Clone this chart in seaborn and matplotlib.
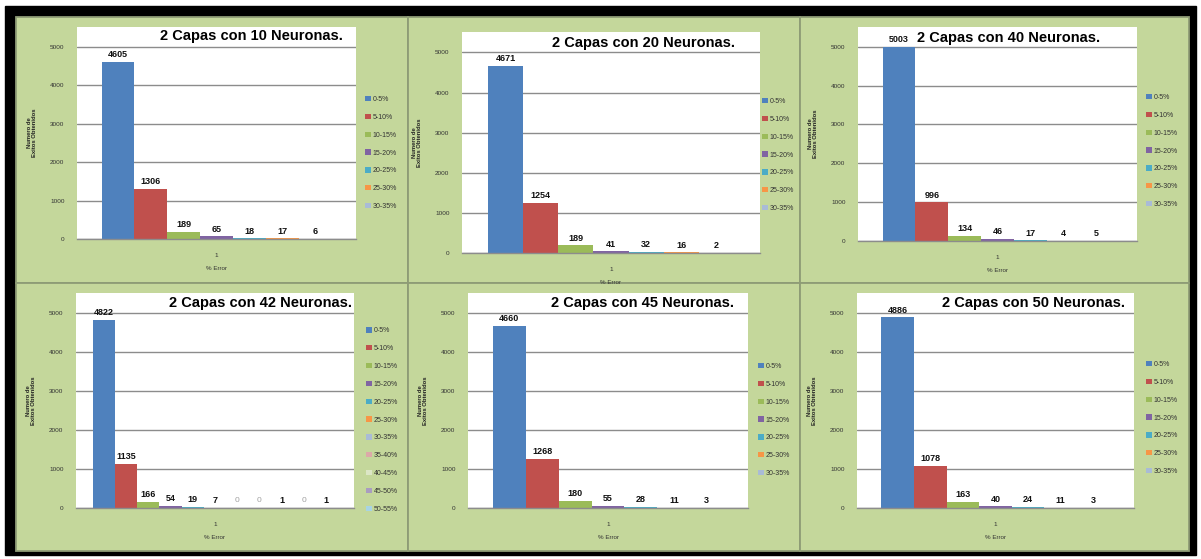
import numpy as np
import pandas as pd
import seaborn as sns
import matplotlib.pyplot as plt
from matplotlib.patches import Rectangle

sns.set_style("white")
plt.rcParams['font.family'] = ['Liberation Sans', 'DejaVu Sans']

# ---- datos ----
rangos = ['0-5%', '5-10%', '10-15%', '15-20%', '20-25%', '25-30%', '30-35%',
          '35-40%', '40-45%', '45-50%', '50-55%']
colores = ['#4F81BD', '#C0504D', '#9BBB59', '#8064A2', '#4BACC6', '#F79646',
           '#A9BBD6', '#DCA9A8', '#DCE6C6', '#A99CC0', '#A8D4E3']

titulos = ['2 Capas con 10 Neuronas.', '2 Capas con 20 Neuronas.', '2 Capas con 40 Neuronas.',
           '2 Capas con 42 Neuronas.', '2 Capas con 45 Neuronas.', '2 Capas con 50 Neuronas.']
n10 = [4605, 1306, 189, 65, 18, 17, 6]
n20 = [4671, 1254, 189, 41, 32, 16, 2]
n40 = [5003, 996, 134, 46, 17, 4, 5]
n42 = [4822, 1135, 166, 54, 19, 7, 0, 0, 1, 0, 1]
n45 = [4660, 1268, 180, 55, 28, 11, 3]
n50 = [4886, 1078, 163, 40, 24, 11, 3]
valores = [n10, n20, n40, n42, n45, n50]

# ---- layout (pixels) ----
W, H = 1201, 559
verde = '#C4D79B'
# plot areas: x0, x1, y0, y1
areas = [(77, 356, 27, 239), (462, 760, 32, 253), (858, 1137, 27, 241),
         (76, 354, 293, 508), (468, 748, 293, 508), (857, 1134, 293, 508)]
# title right edge, title center y
tit_pos = [(343, 36), (735, 43), (1100, 38), (352, 303), (734, 303), (1125, 303)]
# legend left x, center y
leg_pos = [(362, 153), (759, 155), (1143, 151), (363, 420), (755, 420), (1143, 418)]
cols = [(16, 408), (408, 800), (800, 1189)]
rows = [(17, 283), (283, 551)]


def fx(x):
    return x / W


def fy(y):
    return 1 - y / H


fig = plt.figure(figsize=(W / 100, H / 100), dpi=100, facecolor='white')
fig.patches.append(Rectangle((fx(5), fy(555)), (1196 - 5) / W, (555 - 6) / H,
                             transform=fig.transFigure, color='black', zorder=-3))
for r in rows:
    for c in cols:
        fig.patches.append(Rectangle((fx(c[0]), fy(r[1])), (c[1] - c[0]) / W, (r[1] - r[0]) / H,
                                     transform=fig.transFigure, facecolor=verde,
                                     edgecolor='#8E9C76', lw=1.3, zorder=-2))

for i in range(6):
    x0, x1, y0, y1 = areas[i]
    ax = fig.add_axes([fx(x0), fy(y1), (x1 - x0) / W, (y1 - y0) / H])
    vals = valores[i]
    n = len(vals)
    df = pd.DataFrame({'grupo': ['1'] * n, 'rango': rangos[:n], 'n': vals})
    sns.barplot(data=df, x='grupo', y='n', hue='rango', hue_order=rangos[:n],
                palette=colores[:n], width=n / (n + 1.5), saturation=1,
                linewidth=0, ax=ax)
    ax.set_xlim(-0.5, 0.5)
    ax.set_ylim(0, 5510)
    ax.set_yticks([0, 1000, 2000, 3000, 4000, 5000])
    ax.set_facecolor('white')
    ax.yaxis.grid(True, color='#8C8C8C', lw=1.0)
    ax.set_axisbelow(True)
    for s in ['top', 'right', 'left']:
        ax.spines[s].set_visible(False)
    ax.spines['bottom'].set_color('#8C8C8C')
    ax.spines['bottom'].set_linewidth(1.0)
    ax.tick_params(axis='both', length=0, labelsize=4.6, colors='#333333')
    ax.tick_params(axis='y', pad=9)
    ax.tick_params(axis='x', pad=10)
    ax.set_xlabel('% Error', fontsize=4.5, color='#333333', labelpad=6)
    ax.set_ylabel('Numero de\nExitos Obtenidos', fontsize=4.2, color='#222222',
                  fontweight='bold', linespacing=1.1)
    ax.yaxis.set_label_coords(-40 / (x1 - x0), 0.5)

    # etiquetas de datos
    for cont, v in zip(ax.containers, vals):
        if v == 0:
            ax.bar_label(cont, labels=['0'], padding=3, fontsize=6, color='#A0A0A0')
        else:
            ax.bar_label(cont, labels=[str(v)], padding=2, fontsize=6.5,
                         fontweight='bold', color='#111111')

    tx, ty = tit_pos[i]
    fig.text(fx(tx), fy(ty), titulos[i], ha='right', va='center',
             fontsize=10.5, fontweight='bold', color='black')

    lx, ly = leg_pos[i]
    leg = ax.legend(loc='center left', bbox_to_anchor=(fx(lx), fy(ly)),
                    bbox_transform=fig.transFigure, frameon=False, fontsize=5,
                    handlelength=0.8, handleheight=0.8, handletextpad=0.2,
                    labelspacing=1.55, borderpad=0)
    for t in leg.get_texts():
        t.set_color('#333333')

fig.savefig('out.png', dpi=100)
